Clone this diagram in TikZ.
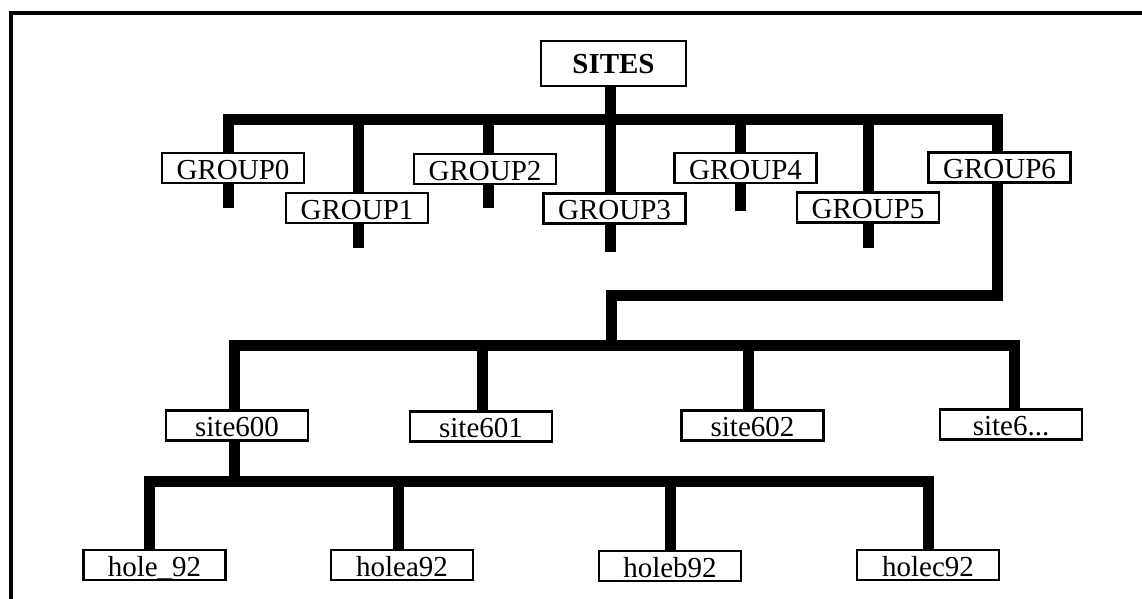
\documentclass[tikz,border=0pt]{standalone}
\usepackage{fontspec}
\setmainfont{Liberation Serif}
\usetikzlibrary{backgrounds}

\tikzset{
  box/.style={draw, line width=2.4pt, fill=white, inner sep=0pt, minimum width=142pt,
    text height=26pt, text depth=4pt, font=\fontsize{29}{32}\selectfont},
  topbox/.style={box, minimum width=145pt, text height=33pt, text depth=12pt,
    font=\fontsize{29}{32}\selectfont\bfseries},
  bar/.style={line width=11pt, line join=miter, line cap=butt},
}

\begin{document}
\begin{tikzpicture}[x=1pt,y=-1pt]
      \useasboundingbox (0,0) rectangle (1142,599);
      \draw[line width=4pt] (10.5,599) |- (1142,13.5);
      \node[topbox] (sites) at (613.5,63.5) {SITES};
      \node[box] (g0) at (233,168) {GROUP0};
      \node[box] (g1) at (357,208) {GROUP1};
      \node[box] (g2) at (485,169) {GROUP2};
      \node[box] (g3) at (614.5,208.5) {GROUP3};
      \node[box] (g4) at (745.5,168) {GROUP4};
      \node[box] (g5) at (868,207.5) {GROUP5};
      \node[box] (g6) at (999.5,167.5) {GROUP6};
      \node[box] (s600) at (237,425.5) {site600};
      \node[box] (s601) at (481,426.5) {site601};
      \node[box] (s602) at (752.5,425.5) {site602};
      \node[box] (s6x) at (1011,424.5) {site6...};
      \node[box] (h92) at (154.5,565) {hole\_92};
      \node[box] (ha) at (402,565) {holea92};
      \node[box] (hb) at (670,566) {holeb92};
      \node[box] (hc) at (928,565) {holec92};
      \coordinate (g0end) at (228,208);
      \coordinate (g1end) at (358,248);
      \coordinate (g2end) at (488.5,208);
      \coordinate (g3end) at (610.5,252);
      \coordinate (g4end) at (740,211);
      \coordinate (g5end) at (868,248);
      \coordinate (tbar) at (997.5,120);
      \coordinate (g6bend) at (611,295);
      \coordinate (sbar) at (1014.5,345);
      \coordinate (hjoin) at (234,481.5);
      \coordinate (hbar) at (928,481.5);
      \begin{pgfonlayer}{background}
      \draw[bar] (sites.south -| g3end) -- (g3end);
      \draw[bar] (g0end) |- (tbar) -- (tbar |- g6bend) -- (g6bend) -- (g6bend |- sbar);
      \foreach \c in {g1end,g2end,g4end,g5end}
      \draw[bar] (\c) -- (\c |- tbar);
      \draw[bar] (hjoin) |- (sbar) -- (s6x.north -| sbar);
      \draw[bar] ([xshift=1pt]s601.north) -- ([xshift=1pt]s601.north |- sbar);
      \draw[bar] ([xshift=-4pt]s602.north) -- ([xshift=-4pt]s602.north |- sbar);
      \draw[bar] ([xshift=-5pt]h92.north) |- (hbar) -- (hc.north -| hbar);
      \draw[bar] ([xshift=-4pt]ha.north) -- ([xshift=-4pt]ha.north |- hbar);
      \draw[bar] ([xshift=0.5pt]hb.north) -- ([xshift=0.5pt]hb.north |- hbar);
      \end{pgfonlayer}
\end{tikzpicture}
\end{document}
